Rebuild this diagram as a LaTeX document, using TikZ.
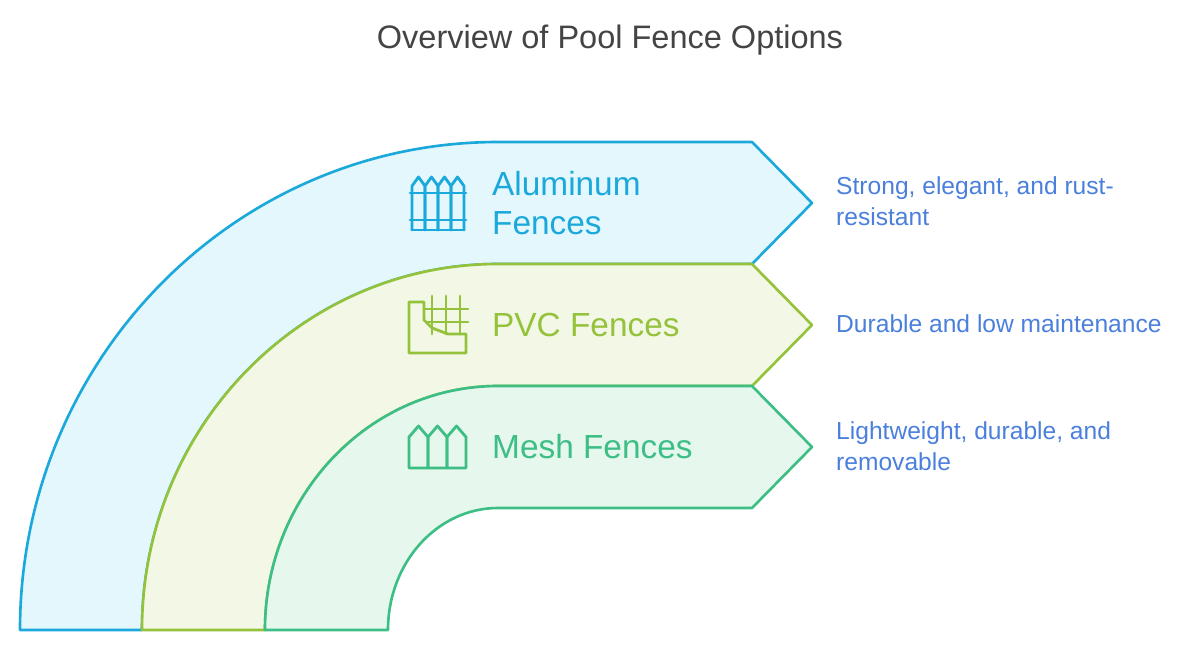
\documentclass[tikz,border=0pt]{standalone}
\usepackage{fontspec}
\setmainfont{Liberation Sans}
\usetikzlibrary{positioning}
\definecolor{aluline}{HTML}{1BA9DB}
\definecolor{alufill}{HTML}{E3F7FC}
\definecolor{pvcline}{HTML}{94C23B}
\definecolor{pvcfill}{HTML}{F3F8E6}
\definecolor{meshline}{HTML}{3DBE85}
\definecolor{meshfill}{HTML}{E6F7EE}
\definecolor{desctext}{HTML}{4A7FDC}
\tikzset{
  band/.style={line width=1.5pt, line join=round},
  label/.style={anchor=west, font=\fontsize{19}{22}\selectfont, align=left},
  desc/.style={anchor=west, text=desctext, font=\fontsize{14}{17.5}\selectfont, align=left},
  icon/.style={line width=1.6pt, line join=round, line cap=round}
}
\begin{document}
\begin{tikzpicture}[x=0.02cm, y=-0.02cm]
    \useasboundingbox (0,0) rectangle (1200,652);
    % Title
    \node (title) at (610,40) {\fontsize{18.5}{22}\selectfont\color[HTML]{444444}Overview of Pool Fence Options};
    % Bands
    \filldraw [band, draw=aluline, fill=alufill] (20,630) arc[start angle=180, end angle=270, x radius=478, y radius=488]
      -- (752,142) -- (812,203) -- (752,264) -- (498,264)
      arc[start angle=270, end angle=180, x radius=356, y radius=366] -- cycle;
    \filldraw [band, draw=pvcline, fill=pvcfill] (142,630) arc[start angle=180, end angle=270, x radius=356, y radius=366]
      -- (752,264) -- (812,325) -- (752,386) -- (498,386)
      arc[start angle=270, end angle=180, x radius=233, y radius=244] -- cycle;
    \filldraw [band, draw=meshline, fill=meshfill] (265,630) arc[start angle=180, end angle=270, x radius=233, y radius=244]
      -- (752,386) -- (812,447) -- (752,508) -- (498,508)
      arc[start angle=270, end angle=180, x radius=110, y radius=122] -- cycle;
    % Labels
    \node [label, text=aluline] (alu) at (486,203) {Aluminum\\Fences};
    \node [label, text=pvcline] (pvc) at (486,325) {PVC Fences};
    \node [label, text=meshline] (mesh) at (486,447) {Mesh Fences};
    \node [desc] (alu-desc) at (830,201) {Strong, elegant, and rust-\\resistant};
    \node [desc] (pvc-desc) at (830,324) {Durable and low maintenance};
    \node [desc] (mesh-desc) at (830,446) {Lightweight, durable, and\\removable};
    % Icons
    \begin{scope}[icon, draw=aluline]
      \foreach \x in {412,425,438,451}
        \draw (\x,230) -- (\x,186) -- (\x+6.5,177) -- (\x+13,186) -- (\x+13,230);
      \draw (412,230) -- (464,230);
      \draw (410,193) -- (466,193);
      \draw (410,220) -- (466,220);
    \end{scope}
    \begin{scope}[icon, draw=pvcline]
      \draw (409,353) -- (409,302) -- (424,302) -- (424,320) -- (432,328) -- (448,334)
        -- (466,334) -- (466,353) -- cycle;
      \foreach \x in {432,446,460} \draw (\x,296) -- (\x,334);
      \draw (424,309) -- (468,309);
      \draw (428,322) -- (468,322);
    \end{scope}
    \begin{scope}[icon, draw=meshline]
      \foreach \x in {409,428,447}
        \draw (\x,468) -- (\x,437) -- (\x+9.5,426) -- (\x+19,437) -- (\x+19,468) -- cycle;
    \end{scope}
\end{tikzpicture}
\end{document}
